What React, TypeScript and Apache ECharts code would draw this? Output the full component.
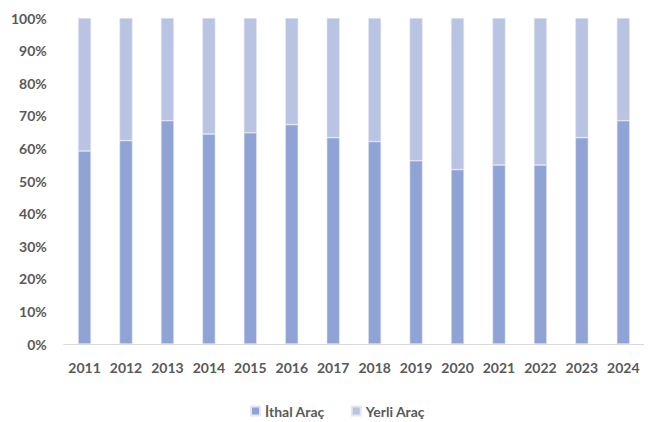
import React, { useEffect, useRef } from "react";
import * as echarts from "echarts";

const years = ["2011","2012","2013","2014","2015","2016","2017","2018","2019","2020","2021","2022","2023","2024"];
const ithal = [59.2, 62.4, 68.5, 64.4, 64.8, 67.3, 63.3, 62.1, 56.2, 53.5, 54.9, 54.9, 63.3, 68.5];
const yerli = ithal.map((v) => +(100 - v).toFixed(1));
const seriesNames = ["İthal Araç", "Yerli Araç"];
const colors = ["#8FA3D4", "#B9C3E2"];

export default function App() {
  const ref = useRef<HTMLDivElement>(null);
  useEffect(() => {
    if (!ref.current) return;
    const chart = echarts.init(ref.current, null, { renderer: "svg" });
    const font = "Lato";
    chart.setOption({
      animation: false,
      grid: { left: 53, right: -14, top: 10, bottom: 78 },
      legend: {
        top: 391,
        left: 237,
        itemWidth: 9,
        itemHeight: 9,
        itemGap: 26,
        icon: "rect",
        textStyle: { color: "#595959", fontSize: 14, fontWeight: "bold", fontFamily: font },
        data: seriesNames,
      },
      xAxis: {
        type: "category",
        data: years,
        axisLine: { lineStyle: { color: "#D9D9D9", width: 1 } },
        axisTick: { show: false },
        axisLabel: { color: "#595959", fontSize: 14, fontWeight: "bold", fontFamily: font, margin: 16, interval: 0, hideOverlap: false },
      },
      yAxis: {
        type: "value",
        min: 0,
        max: 100,
        interval: 10,
        splitLine: { show: false },
        axisLine: { show: false },
        axisTick: { show: false },
        axisLabel: { color: "#595959", fontSize: 14, fontWeight: "bold", fontFamily: font, margin: 17, formatter: "{value}%" },
      },
      series: [
        {
          name: seriesNames[0],
          type: "bar",
          stack: "t",
          data: ithal,
          barWidth: 13,
          itemStyle: { color: colors[0], borderColor: "#E4E8F4", borderWidth: 0.6 },
        },
        {
          name: seriesNames[1],
          type: "bar",
          stack: "t",
          data: yerli,
          barWidth: 13,
          itemStyle: { color: colors[1], borderColor: "#E4E8F4", borderWidth: 0.6 },
        },
      ],
    });
    return () => chart.dispose();
  }, []);
  return <div ref={ref} style={{ width: 636, height: 414 }} />;
}
